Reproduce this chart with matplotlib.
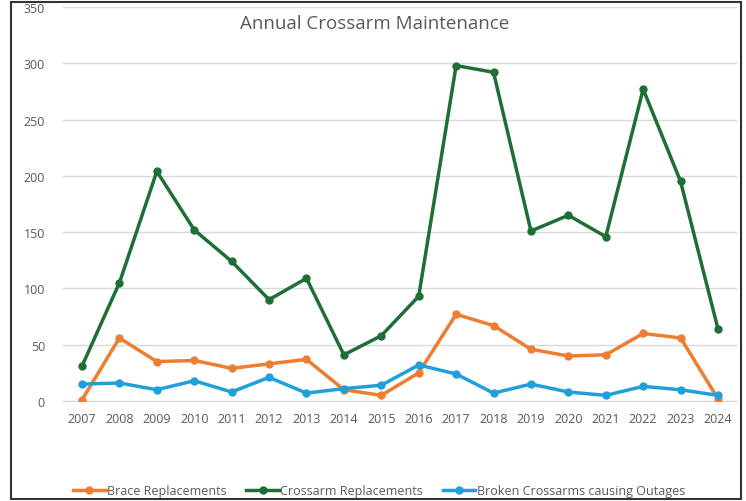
import matplotlib
matplotlib.use("Agg")
import matplotlib.pyplot as plt
from matplotlib.patches import Rectangle

years = [str(y) for y in range(2007, 2025)]
brace = [1, 56, 35, 36, 29, 33, 37, 10, 5, 25, 77, 67, 46, 40, 41, 60, 56, 2]
crossarm = [31, 105, 204, 152, 124, 90, 109, 41, 58, 93, 298, 292, 151, 165, 146, 277, 195, 64]
broken = [15, 16, 10, 18, 8, 21, 7, 11, 14, 32, 24, 7, 15, 8, 5, 13, 10, 5]

plt.rcParams['font.family'] = ['Open Sans', 'DejaVu Sans']

fig = plt.figure(figsize=(7.46, 5.02), dpi=100)
ax = fig.add_axes([63/746, 1-402/502, (737-63)/746, (402-8)/502])

x = list(range(len(years)))
c_or = '#ED7D31'
c_gr = '#1E6F35'
c_bl = '#1FA0DB'
ax.plot(x, brace, color=c_or, lw=2.5, marker='o', ms=5, label='Brace Replacements', zorder=3)
ax.plot(x, crossarm, color=c_gr, lw=2.5, marker='o', ms=5, label='Crossarm Replacements', zorder=3)
ax.plot(x, broken, color=c_bl, lw=2.5, marker='o', ms=5, label='Broken Crossarms causing Outages', zorder=3)

ax.set_xlim(-0.508, len(years) - 1 + 0.508)
ax.set_ylim(0, 350)
ax.set_yticks(range(0, 351, 50))
ax.set_xticks(x)
ax.set_xticklabels(years)
ax.yaxis.grid(True, color='#D9D9D9', lw=1)
ax.set_axisbelow(True)
for s in ['top', 'right', 'left']:
    ax.spines[s].set_visible(False)
ax.spines['bottom'].set_color('#D9D9D9')
ax.tick_params(axis='both', length=0, labelsize=9, colors='#595959')
ax.tick_params(axis='x', pad=8)
ax.tick_params(axis='y', pad=13)

fig.text(375/746, 1-24/502, 'Annual Crossarm Maintenance', ha='center', va='center',
         fontsize=13.5, color='#595959')

leg = fig.legend(loc='center', bbox_to_anchor=(379/746, 1-492/502), ncol=3, frameon=False,
                 fontsize=9, handlelength=2.6, columnspacing=1.6, handletextpad=0.1)
for t in leg.get_texts():
    t.set_color('#595959')

fig.patches.append(Rectangle((11/746, 1-500/502), (741-11)/746, (500-3)/502,
                             transform=fig.transFigure, fill=False, edgecolor='#333333', lw=1.5))

fig.savefig('out.png', dpi=100)
